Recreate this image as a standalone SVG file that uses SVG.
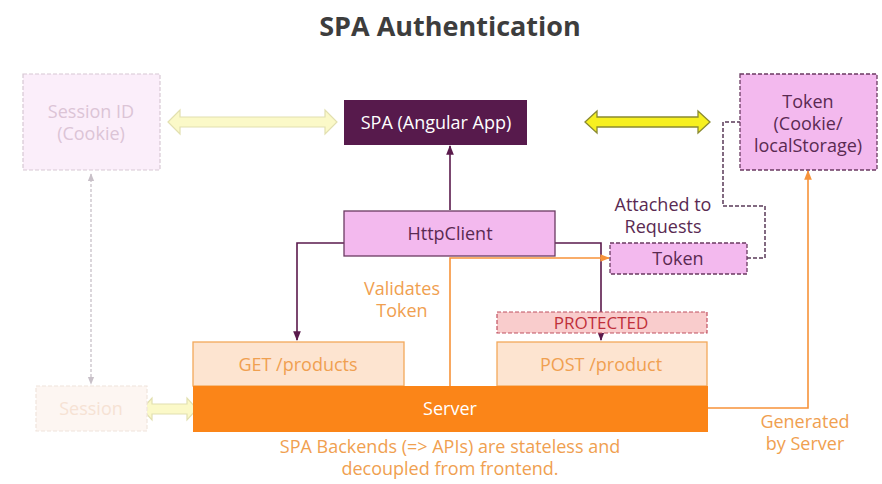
<svg xmlns="http://www.w3.org/2000/svg" width="882" height="484" viewBox="0 0 882 484">
<style>
text{font-family:"Open Sans",Lato,"Liberation Sans",sans-serif;text-anchor:middle;dominant-baseline:central}
.t{font-size:18px}
.pk{fill:#f3b9ee;stroke:#6b3a62;stroke-width:1.3}
.dash{stroke-dasharray:4 2}
.dp{fill:#5a2a52}
.or{fill:#f0a050}
.ob{fill:#fde4d0;stroke:#f3a85a;stroke-width:1.3}
</style>
<defs>
<marker id="ap" viewBox="0 0 10 10" refX="9" refY="5" markerWidth="6" markerHeight="6" orient="auto"><path d="M0,1 L10,5 L0,9 Z" fill="#5a1a4c"/></marker>
<marker id="ao" viewBox="0 0 10 10" refX="9" refY="5" markerWidth="6" markerHeight="6" orient="auto"><path d="M0,1 L10,5 L0,9 Z" fill="#f7933a"/></marker>
<marker id="ag" viewBox="0 0 10 10" refX="9" refY="5" markerWidth="6" markerHeight="6" orient="auto"><path d="M0,1 L10,5 L0,9 Z" fill="#c8c0c8"/></marker>
<marker id="ags" viewBox="0 0 10 10" refX="1" refY="5" markerWidth="6" markerHeight="6" orient="auto"><path d="M10,1 L0,5 L10,9 Z" fill="#c8c0c8"/></marker>
</defs>
<text x="450" y="25" style="font-size:27px;font-weight:bold;fill:#3d3d3d">SPA Authentication</text>

<g id="connectors" fill="none">
<path d="M450,210 V146" stroke="#5a1a4c" stroke-width="1.6" marker-end="url(#ap)"/>
<path d="M344,243 H297 V340" stroke="#5a1a4c" stroke-width="1.6" marker-end="url(#ap)"/>
<path d="M555,243 H601 V340" stroke="#5a1a4c" stroke-width="1.6" marker-end="url(#ap)"/>
<path d="M450,386 V258 H609" stroke="#f7933a" stroke-width="1.6" marker-end="url(#ao)"/>
<path d="M708,408 H808 V171" stroke="#f7933a" stroke-width="1.6" marker-end="url(#ao)"/>
<path d="M747,258 H765 V206 H723 V122 H740" stroke="#5a3a58" stroke-width="1.5" stroke-dasharray="4 2"/>
<path d="M91,174 V384" stroke="#c8c0c8" stroke-width="1.3" stroke-dasharray="3 2" marker-end="url(#ag)" marker-start="url(#ags)"/>
<path d="M168,122 L180,110 V117 H325 V110 L337,122 L325,134 V127 H180 V134 Z" fill="#fbf9c8" stroke="#e2e0b0" stroke-width="1.2"/>
<path d="M585,122 L597,111 V117 H698 V111 L710,122 L698,133 V127 H597 V133 Z" fill="#f7f020" stroke="#8a8a30" stroke-width="1.3"/>
<path d="M142,409 L152,398 V404 H187 V398 L197,409 L187,420 V414 H152 V420 Z" fill="#fbf9c8" stroke="#e2e0b0" stroke-width="1.2"/>
</g>

<g id="session-id">
<rect x="23" y="74" width="137" height="96" fill="#fbeefa" stroke="#d8c8d4" stroke-width="1.2" class="dash"/>
<text x="91" y="111" class="t" fill="#dcc4d6">Session ID</text>
<text x="91" y="133" class="t" fill="#dcc4d6">(Cookie)</text>
</g>

<g id="spa">
<rect x="344" y="100" width="183" height="45" fill="#571a4c"/>
<text x="436" y="122" class="t" fill="#ffffff">SPA (Angular App)</text>
</g>

<g id="token-store">
<rect x="740" y="74" width="137" height="96" class="pk dash"/>
<text x="808" y="101" class="t dp">Token</text>
<text x="808" y="123" class="t dp">(Cookie/</text>
<text x="808" y="145" class="t dp">localStorage)</text>
</g>

<g id="httpclient">
<rect x="344" y="211" width="211" height="45" class="pk"/>
<text x="450" y="233" class="t dp">HttpClient</text>
</g>

<g id="attached-label">
<text x="663" y="204" class="t dp">Attached to</text>
<text x="663" y="226" class="t dp">Requests</text>
</g>

<g id="token">
<rect x="610" y="243" width="137" height="31" class="pk dash"/>
<text x="678" y="258" class="t dp">Token</text>
</g>

<g id="validates-label">
<text x="402" y="288" class="t or">Validates</text>
<text x="402" y="310" class="t or">Token</text>
</g>

<g id="protected">
<rect x="497" y="312" width="210" height="21" fill="#f9cccc" stroke="#c05060" stroke-width="1.2" class="dash"/>
<text x="601" y="322" style="font-size:17px" fill="#c0303a">PROTECTED</text>
</g>

<g id="get-products">
<rect x="193" y="342" width="211" height="44" class="ob"/>
<text x="298" y="364" class="t or">GET /products</text>
</g>

<g id="post-product">
<rect x="497" y="342" width="210" height="44" class="ob"/>
<text x="601" y="364" class="t or">POST /product</text>
</g>

<g id="server">
<rect x="193" y="386" width="515" height="46" fill="#fb8518"/>
<text x="450" y="408" class="t" fill="#ffffff">Server</text>
</g>

<g id="session">
<rect x="36" y="386" width="111" height="45" fill="#fdf6f2" stroke="#f0e4dc" stroke-width="1.2" class="dash"/>
<text x="91" y="408" class="t" fill="#f6e2d4">Session</text>
</g>

<g id="generated-label">
<text x="805" y="421" class="t or">Generated</text>
<text x="805" y="443" class="t or">by Server</text>
</g>

<g id="footer">
<text x="450" y="446" class="t or">SPA Backends (=&gt; APIs) are stateless and</text>
<text x="450" y="468" class="t or">decoupled from frontend.</text>
</g>
</svg>
